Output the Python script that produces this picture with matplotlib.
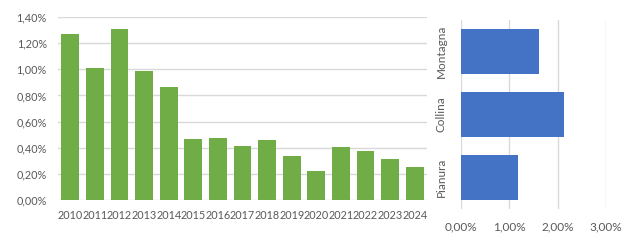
import numpy as np
import matplotlib
matplotlib.use("Agg")
import matplotlib.pyplot as plt
from matplotlib.ticker import FuncFormatter

# data (percent)
years = ["2010", "2011", "2012", "2013", "2014", "2015", "2016", "2017",
         "2018", "2019", "2020", "2021", "2022", "2023", "2024"]
yearly = [1.27, 1.01, 1.31, 0.99, 0.865, 0.467, 0.474, 0.413,
          0.459, 0.337, 0.222, 0.405, 0.375, 0.314, 0.252]

zones = ["Pianura", "Collina", "Montagna"]
zone_vals = [1.18, 2.13, 1.61]

green = "#70AD47"
blue = "#4472C4"
txt = "#595959"
grid = "#D9D9D9"

plt.rcParams['font.family'] = ['Lato', 'DejaVu Sans']

def pct(v, pos):
    return f"{v:.2f}%".replace(".", ",")

fig = plt.figure(figsize=(6.3, 2.4), dpi=100)

ax = fig.add_axes([58/630, 1-200/240, (427-58)/630, 183/240])
x = np.arange(len(years))
ax.bar(x, yearly, width=0.73, color=green, zorder=3)
ax.set_xlim(-0.5, len(years)-0.5)
ax.set_ylim(0, 1.4)
ax.set_yticks(np.arange(0, 1.41, 0.2))
ax.yaxis.set_major_formatter(FuncFormatter(pct))
ax.set_xticks(x)
ax.set_xticklabels(years)
ax.grid(axis='y', color=grid, lw=1, zorder=0)
ax.tick_params(length=0, colors=txt, labelsize=7.8)
ax.tick_params(axis='y', pad=8)
ax.tick_params(axis='x', pad=7)
for s in ax.spines.values():
    s.set_visible(False)

ax2 = fig.add_axes([460.7/630, 1-209/240, (606-460.7)/630, 189/240])
y = np.arange(len(zones))
ax2.barh(y, zone_vals, height=0.71, color=blue, zorder=3)
ax2.set_xlim(0, 3)
ax2.set_ylim(-0.5, len(zones)-0.5)
ax2.set_xticks([0, 1, 2, 3])
ax2.xaxis.set_major_formatter(FuncFormatter(pct))
ax2.set_yticks(y)
ax2.set_yticklabels(zones, rotation=90, va='center')
ax2.grid(axis='x', color=grid, lw=1, zorder=0)
ax2.tick_params(length=0, colors=txt, labelsize=8.5)
ax2.tick_params(axis='x', pad=9)
ax2.tick_params(axis='y', pad=10)
for s in ax2.spines.values():
    s.set_visible(False)

fig.savefig("out.png", dpi=100)
